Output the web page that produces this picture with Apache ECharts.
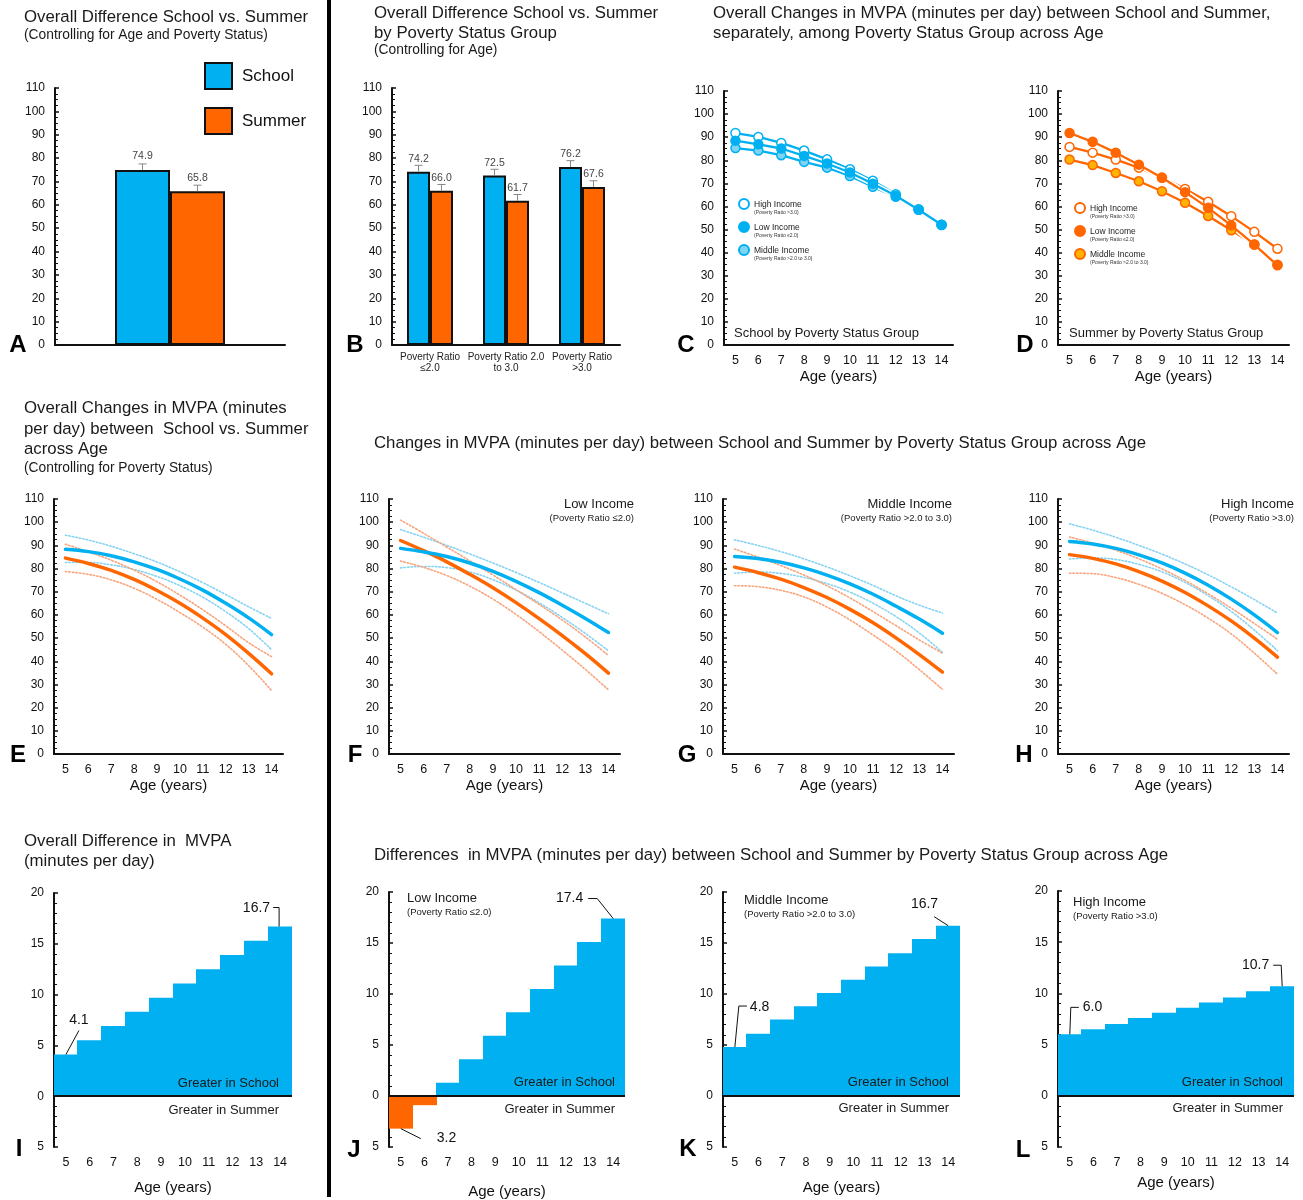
<!DOCTYPE html>
<html>
<head>
<meta charset="utf-8">
<script src="https://cdn.jsdelivr.net/npm/echarts@6/dist/echarts.min.js"></script>
<style>
  html, body { margin: 0; padding: 0; background: #fff; }
  #main { width: 1303px; height: 1200px; }
</style>
</head>
<body>
<div id="main"></div>
<script>
// ---------- data ----------
const ages = ['5', '6', '7', '8', '9', '10', '11', '12', '13', '14'];

// A: overall means (controlling for age and poverty status)
const overallSchool = [74.9];
const overallSummer = [65.8];
const overallSchoolErr = [2.6];
const overallSummerErr = [2.6];

// B: by poverty status group
const povertyGroups = ['Poverty Ratio\n≤2.0', 'Poverty Ratio 2.0\nto 3.0', 'Poverty Ratio\n>3.0'];
const groupSchool = [74.2, 72.5, 76.2];
const groupSummer = [66.0, 61.7, 67.6];
const groupSchoolErr = [2.7, 2.7, 2.7];
const groupSummerErr = [2.7, 2.7, 2.7];

// C: school MVPA by poverty group across age
const schoolHigh = [91.8, 90.1, 87.5, 84.2, 80.4, 76.1, 71.1, 65.3, 58.8, 52.1];
const schoolLow = [88.5, 86.9, 85.1, 81.9, 78.6, 74.7, 69.8, 64.6, 58.6, 52.1];
const schoolMiddle = [85.3, 84.2, 82.2, 79.3, 76.8, 73.2, 68.5, 64.2, 58.6, 52.0];

// D: summer MVPA by poverty group across age
const summerHigh = [85.8, 83.3, 80.3, 76.8, 72.5, 67.6, 62.0, 55.8, 49.0, 41.7];
const summerLow = [91.8, 88.0, 83.3, 78.1, 72.4, 66.2, 59.4, 51.8, 43.5, 34.5];
const summerMiddle = [80.3, 77.9, 74.5, 70.9, 66.6, 61.6, 55.9, 49.7, 43.5, 34.8];

// E: overall curves with confidence bounds
const allSchool = [88.3, 87.3, 85.5, 82.9, 79.6, 75.5, 70.7, 65.0, 58.7, 51.5];
const allSchoolUpper = [94.4, 92.3, 89.6, 86.4, 82.8, 78.6, 73.9, 68.8, 63.5, 58.5];
const allSchoolLower = [82.6, 82.6, 81.6, 79.6, 76.6, 72.6, 67.6, 61.4, 54.1, 45.0];
const allSummer = [84.5, 82.2, 79.2, 75.3, 70.5, 65.0, 58.6, 51.5, 43.4, 34.6];
const allSummerUpper = [90.5, 87.2, 83.6, 79.3, 74.3, 68.5, 62.2, 55.3, 48.0, 42.0];
const allSummerLower = [78.7, 77.5, 75.1, 71.5, 66.7, 61.0, 54.7, 47.3, 38.1, 27.4];

// F: low income
const lowSchool = [88.7, 87.2, 85.2, 82.4, 78.8, 74.5, 69.6, 64.2, 58.5, 52.4];
const lowSchoolUpper = [96.8, 93.5, 90.0, 86.3, 82.4, 78.3, 74.0, 69.5, 65.0, 60.5];
const lowSchoolLower = [80.3, 80.9, 80.4, 78.5, 75.2, 70.7, 65.2, 58.9, 52.0, 44.5];
const lowSummer = [92.1, 87.7, 82.9, 77.5, 71.7, 65.3, 58.4, 51.1, 43.3, 34.9];
const lowSummerUpper = [100.9, 95.2, 89.3, 83.3, 77.2, 70.9, 64.5, 57.8, 50.5, 42.5];
const lowSummerLower = [83.2, 80.5, 77.0, 72.4, 66.8, 60.2, 52.8, 44.8, 36.5, 27.7];

// G: middle income
const midSchool = [85.2, 84.3, 82.7, 80.3, 77.2, 73.4, 68.9, 63.7, 58.2, 52.1];
const midSchoolUpper = [92.4, 90.0, 87.3, 84.2, 80.7, 76.9, 72.7, 68.2, 64.2, 60.8];
const midSchoolLower = [78.0, 78.5, 77.9, 76.2, 73.5, 69.8, 65.0, 59.2, 52.2, 43.8];
const midSummer = [80.6, 78.3, 75.4, 71.8, 67.5, 62.4, 56.6, 50.0, 42.9, 35.3];
const midSummerUpper = [88.4, 85.0, 81.3, 77.2, 72.6, 67.3, 61.4, 55.3, 49.2, 43.5];
const midSummerLower = [72.6, 72.2, 70.6, 67.8, 63.4, 57.8, 51.3, 44.4, 36.4, 27.9];

// H: high income
const highSchool = [91.7, 90.6, 88.7, 85.9, 82.4, 78.0, 72.8, 66.8, 60.0, 52.4];
const highSchoolUpper = [99.3, 96.6, 93.5, 90.0, 86.2, 82.0, 77.3, 72.1, 66.6, 60.8];
const highSchoolLower = [84.1, 84.6, 83.9, 81.8, 78.6, 74.0, 68.3, 61.5, 53.4, 44.6];
const highSummer = [86.0, 84.4, 82.0, 78.7, 74.6, 69.7, 63.9, 57.4, 50.0, 41.8];
const highSummerUpper = [93.6, 91.0, 87.9, 84.2, 79.8, 74.8, 69.1, 62.9, 56.3, 49.5];
const highSummerLower = [78.0, 77.8, 76.1, 73.2, 69.3, 64.4, 58.6, 51.8, 43.5, 34.4];

// I-L: school minus summer difference by age
const diffOverall = [4.1, 5.5, 6.9, 8.3, 9.7, 11.1, 12.5, 13.9, 15.3, 16.7];
const diffLow = [-3.2, -0.9, 1.3, 3.6, 5.9, 8.2, 10.5, 12.8, 15.1, 17.4];
const diffMiddle = [4.8, 6.1, 7.5, 8.8, 10.1, 11.4, 12.7, 14.0, 15.4, 16.7];
const diffHigh = [6.0, 6.5, 7.0, 7.6, 8.1, 8.6, 9.1, 9.6, 10.2, 10.7];

// ---------- styling ----------
const FF = '"Liberation Sans", Arial, Helvetica, sans-serif';
const INK = '#111';
const BLUE = '#00b0f0', ORANGE = '#ff6600';
const BLUE_CI = '#86d3f3', ORANGE_CI = '#f8a47c';
const BLUE_MID = '#7fd3f3', ORANGE_MID = '#ffb300';

const incomeText = {
  High: ['High Income', '(Poverty Ratio >3.0)'],
  Low: ['Low Income', '(Poverty Ratio ≤2.0)'],
  Middle: ['Middle Income', '(Poverty Ratio >2.0 to 3.0)']
};

const grids = [
  { left: 55, top: 88, width: 230, height: 257 },    // A
  { left: 392, top: 88, width: 228, height: 257 },   // B
  { left: 724, top: 91, width: 229, height: 254 },   // C
  { left: 1058, top: 91, width: 231, height: 254 },  // D
  { left: 54, top: 499, width: 229, height: 255 },   // E
  { left: 389, top: 499, width: 231, height: 255 },  // F
  { left: 723, top: 499, width: 231, height: 255 },  // G
  { left: 1058, top: 499, width: 231, height: 255 }, // H
  { left: 54, top: 893, width: 238, height: 254 },   // I
  { left: 389, top: 892, width: 236, height: 255 },  // J
  { left: 723, top: 892, width: 237, height: 255 },  // K
  { left: 1058, top: 891, width: 236, height: 256 }  // L
];

const axisLine = { show: true, onZero: false, lineStyle: { color: INK, width: 2 } };

function valueY(gi, min, max, interval, minorSplit, fmt) {
  return {
    type: 'value', gridIndex: gi, min, max, interval,
    axisLine,
    axisTick: { show: true, inside: true, length: 4, lineStyle: { color: INK, width: 1.5 } },
    minorTick: { show: true, splitNumber: minorSplit, length: 3, lineStyle: { color: INK, width: 1 } },
    splitLine: { show: false }, minorSplitLine: { show: false },
    axisLabel: { color: INK, fontSize: 12, fontFamily: FF, margin: 10, formatter: fmt }
  };
}

function ageX(gi, nameGap, margin, showLine) {
  return {
    type: 'category', gridIndex: gi, data: ages, boundaryGap: true,
    axisLine: showLine ? axisLine : { show: false, onZero: false },
    axisTick: { show: false }, splitLine: { show: false },
    axisLabel: { color: INK, fontSize: 12.5, fontFamily: FF, margin, interval: 0 },
    name: 'Age (years)', nameLocation: 'middle', nameGap,
    nameTextStyle: { fontSize: 15, color: INK, fontFamily: FF }
  };
}

function bar(gi, name, data, color, width, labelDist) {
  return {
    type: 'bar', name, xAxisIndex: gi, yAxisIndex: gi, data,
    barWidth: width, barGap: '0%',
    itemStyle: { color, borderColor: INK, borderWidth: 2 },
    label: { show: true, position: 'top', distance: labelDist, fontSize: 10.5, color: '#444',
             fontFamily: FF, formatter: p => Number(p.value).toFixed(1) }
  };
}

function errorBars(gi, values, errs, side, barW) {
  return {
    type: 'custom', xAxisIndex: gi, yAxisIndex: gi, silent: true, z: 3,
    data: values.map((v, i) => [i, v, v + errs[i]]),
    renderItem: (params, api) => {
      const top = api.coord([api.value(0), api.value(2)]);
      const base = api.coord([api.value(0), api.value(1)]);
      const x = top[0] + side * barW / 2;
      return {
        type: 'group', children: [
          { type: 'line', shape: { x1: x, y1: base[1], x2: x, y2: top[1] }, style: { stroke: '#888', lineWidth: 1 } },
          { type: 'line', shape: { x1: x - 4, y1: top[1], x2: x + 4, y2: top[1] }, style: { stroke: '#888', lineWidth: 1 } }
        ]
      };
    }
  };
}

// each group line gets a white halo underneath so overlapping lines stay separate
function groupLine(gi, name, data, color, fill) {
  return [
    { type: 'line', xAxisIndex: gi, yAxisIndex: gi, data, symbol: 'none', silent: true,
      lineStyle: { color: '#fff', width: 5.5 } },
    { type: 'line', name, xAxisIndex: gi, yAxisIndex: gi, data,
      symbol: 'circle', symbolSize: 9,
      lineStyle: { color, width: 2.3 },
      itemStyle: { color: fill, borderColor: color, borderWidth: 1.5 } }
  ];
}

function curve(gi, data, color, width, dotted) {
  return {
    type: 'line', xAxisIndex: gi, yAxisIndex: gi, data, smooth: 0.4,
    symbol: 'none', silent: true,
    lineStyle: { color, width, type: dotted ? [1.5, 2] : 'solid', cap: 'round' }
  };
}

// contiguous step blocks: each age band filled from zero to its difference
function diffBars(gi, values) {
  return {
    type: 'custom', xAxisIndex: gi, yAxisIndex: gi, silent: true,
    data: values.map((v, i) => [i, v]),
    encode: { x: 0, y: 1 },
    renderItem: (params, api) => {
      const v = api.value(1);
      const end = api.coord([api.value(0), v]);
      const zero = api.coord([api.value(0), 0]);
      const bw = api.size([1, 0])[0];
      const x0 = Math.floor(end[0] - bw / 2);
      const x1 = Math.ceil(end[0] + bw / 2);
      return {
        type: 'rect',
        shape: { x: x0, y: Math.min(end[1], zero[1]), width: x1 - x0, height: Math.abs(zero[1] - end[1]) },
        style: { fill: v < 0 ? ORANGE : BLUE }
      };
    }
  };
}

function zeroLine(gi) {
  return {
    type: 'line', xAxisIndex: gi, yAxisIndex: gi, data: [], silent: true, z: 4,
    markLine: {
      silent: true, symbol: 'none', label: { show: false },
      lineStyle: { color: INK, width: 2, type: 'solid' },
      data: [{ yAxis: 0 }]
    }
  };
}

// leader line + value text for a labelled step; offsets are in pixels from the bar end
const calloutShapes = {
  I0: { path: [[0, 0], [13, -24]], text: [13, -34], align: 'center' },
  I9: { path: [[-1, 0], [-1, -19], [-7, -19]], text: [-10, -18], align: 'right' },
  J0: { path: [[0, 0], [20, 10]], text: [36, 10], align: 'left' },
  J9: { path: [[0, 0], [-16, -20], [-25, -20]], text: [-30, -20], align: 'right' },
  K0: { path: [[0, 0], [4, -41], [12, -41]], text: [15, -40], align: 'left' },
  K9: { path: [[0, 0], [-14, -9]], text: [-10, -22], align: 'right' },
  L0: { path: [[0, 0], [1, -27], [9, -27]], text: [13, -27], align: 'left' },
  L9: { path: [[0, 0], [-1, -21], [-9, -21]], text: [-13, -21], align: 'right' }
};

function callout(gi, values, idx, shape) {
  return {
    type: 'custom', xAxisIndex: gi, yAxisIndex: gi, silent: true, z: 5,
    data: [[idx, values[idx]]],
    renderItem: (params, api) => {
      const p = api.coord([api.value(0), api.value(1)]);
      const pts = shape.path.map(d => [p[0] + d[0], p[1] + d[1]]);
      return {
        type: 'group', children: [
          { type: 'polyline', shape: { points: pts }, style: { stroke: INK, lineWidth: 1, fill: null } },
          { type: 'text', x: p[0] + shape.text[0], y: p[1] + shape.text[1],
            style: { text: Math.abs(api.value(1)).toFixed(1), font: '14px ' + FF, fill: INK,
                     align: shape.align, verticalAlign: 'middle' } }
        ]
      };
    }
  };
}

function legendLabel(name) {
  const key = name.split(' ')[1];
  const t = incomeText[key];
  return '{t|' + t[0] + '}\n{s|' + t[1] + '}';
}

function groupLegend(left, top, names) {
  return {
    left, top, padding: 0, orient: 'vertical', icon: 'circle', itemWidth: 10, itemHeight: 10, itemGap: 5.5,
    selectedMode: false, data: names, formatter: legendLabel,
    textStyle: {
      padding: [8, 0, 0, 0],
      rich: {
        t: { fontSize: 8.5, color: '#222', fontFamily: FF, lineHeight: 10 },
        s: { fontSize: 5, color: '#333', fontFamily: FF, lineHeight: 7 }
      }
    }
  };
}

function txt(x, y, text, size, opts) {
  opts = opts || {};
  return {
    type: 'text', x, y, silent: true, z: 100,
    style: {
      text, fill: opts.fill || '#1a1a1a',
      font: (opts.bold ? 'bold ' : '') + size + 'px ' + FF,
      align: opts.align || 'left', verticalAlign: 'middle'
    }
  };
}

const topFmt = v => v;
const diffFmt = v => Math.abs(v);

const xAxes = [
  { type: 'category', gridIndex: 0, data: ['All'], axisLine, axisTick: { show: false }, axisLabel: { show: false },
    splitLine: { show: false } },
  { type: 'category', gridIndex: 1, data: povertyGroups, axisLine, axisTick: { show: false }, splitLine: { show: false },
    axisLabel: { fontSize: 10, lineHeight: 11, color: '#222', fontFamily: FF, margin: 7, interval: 0 } },
  ageX(2, 24, 9, true), ageX(3, 24, 9, true),
  ageX(4, 24, 9, true), ageX(5, 24, 9, true), ageX(6, 24, 9, true), ageX(7, 24, 9, true),
  ageX(8, 33, 9, false), ageX(9, 37, 9, false), ageX(10, 33, 9, false), ageX(11, 28, 9, false)
];

const yAxes = [];
for (let i = 0; i < 8; i++) yAxes.push(valueY(i, 0, 110, 10, 4, topFmt));
for (let i = 8; i < 12; i++) yAxes.push(valueY(i, -5, 20, 5, 5, diffFmt));

const series = [
  // A
  bar(0, 'School', overallSchool, BLUE, 55, 8),
  bar(0, 'Summer', overallSummer, ORANGE, 55, 8),
  errorBars(0, overallSchool, overallSchoolErr, -1, 55),
  errorBars(0, overallSummer, overallSummerErr, 1, 55),
  // B
  bar(1, 'School', groupSchool, BLUE, 23, 7),
  bar(1, 'Summer', groupSummer, ORANGE, 23, 7),
  errorBars(1, groupSchool, groupSchoolErr, -1, 23),
  errorBars(1, groupSummer, groupSummerErr, 1, 23),
  // C
  ...groupLine(2, 'School High Income', schoolHigh, BLUE, '#fff'),
  ...groupLine(2, 'School Middle Income', schoolMiddle, BLUE, BLUE_MID),
  ...groupLine(2, 'School Low Income', schoolLow, BLUE, BLUE),
  // D
  ...groupLine(3, 'Summer High Income', summerHigh, ORANGE, '#fff'),
  ...groupLine(3, 'Summer Middle Income', summerMiddle, ORANGE, ORANGE_MID),
  ...groupLine(3, 'Summer Low Income', summerLow, ORANGE, ORANGE)
];

const curvePanels = [
  [4, allSchool, allSchoolUpper, allSchoolLower, allSummer, allSummerUpper, allSummerLower],
  [5, lowSchool, lowSchoolUpper, lowSchoolLower, lowSummer, lowSummerUpper, lowSummerLower],
  [6, midSchool, midSchoolUpper, midSchoolLower, midSummer, midSummerUpper, midSummerLower],
  [7, highSchool, highSchoolUpper, highSchoolLower, highSummer, highSummerUpper, highSummerLower]
];
curvePanels.forEach(([gi, s, su, sl, m, mu, ml]) => {
  series.push(
    curve(gi, su, BLUE_CI, 1.6, true), curve(gi, sl, BLUE_CI, 1.6, true),
    curve(gi, mu, ORANGE_CI, 1.6, true), curve(gi, ml, ORANGE_CI, 1.6, true),
    curve(gi, m, ORANGE, 3.5, false), curve(gi, s, BLUE, 3.5, false)
  );
});

series.push(
  diffBars(8, diffOverall), diffBars(9, diffLow), diffBars(10, diffMiddle), diffBars(11, diffHigh),
  zeroLine(8), zeroLine(9), zeroLine(10), zeroLine(11),
  callout(8, diffOverall, 0, calloutShapes.I0), callout(8, diffOverall, 9, calloutShapes.I9),
  callout(9, diffLow, 0, calloutShapes.J0), callout(9, diffLow, 9, calloutShapes.J9),
  callout(10, diffMiddle, 0, calloutShapes.K0), callout(10, diffMiddle, 9, calloutShapes.K9),
  callout(11, diffHigh, 0, calloutShapes.L0), callout(11, diffHigh, 9, calloutShapes.L9)
);

const graphic = [
  { type: 'line', silent: true, shape: { x1: 329, y1: 0, x2: 329, y2: 1197 }, style: { stroke: '#000', lineWidth: 4 } },

  txt(24, 17, 'Overall Difference School vs. Summer', 16.8),
  txt(24, 35, '(Controlling for Age and Poverty Status)', 13.8),
  txt(374, 13, 'Overall Difference School vs. Summer', 16.8),
  txt(374, 33, 'by Poverty Status Group', 16.8),
  txt(374, 50, '(Controlling for Age)', 13.8),
  txt(713, 13, 'Overall Changes in MVPA (minutes per day) between School and Summer,', 16.8),
  txt(713, 33, 'separately, among Poverty Status Group across Age', 16.8),
  txt(24, 408, 'Overall Changes in MVPA (minutes', 16.8),
  txt(24, 429, 'per day) between  School vs. Summer', 16.8),
  txt(24, 449, 'across Age', 16.8),
  txt(24, 468, '(Controlling for Poverty Status)', 13.8),
  txt(374, 443, 'Changes in MVPA (minutes per day) between School and Summer by Poverty Status Group across Age', 16.8),
  txt(24, 841, 'Overall Difference in  MVPA', 16.8),
  txt(24, 861, '(minutes per day)', 16.8),
  txt(374, 855, 'Differences  in MVPA (minutes per day) between School and Summer by Poverty Status Group across Age', 16.8),

  txt(734, 333, 'School by Poverty Status Group', 13),
  txt(1069, 333, 'Summer by Poverty Status Group', 13),

  txt(634, 504, 'Low Income', 13, { align: 'right' }),
  txt(634, 518, '(Poverty Ratio ≤2.0)', 9.5, { align: 'right' }),
  txt(952, 504, 'Middle Income', 13, { align: 'right' }),
  txt(952, 518, '(Poverty Ratio >2.0 to 3.0)', 9.5, { align: 'right' }),
  txt(1294, 504, 'High Income', 13, { align: 'right' }),
  txt(1294, 518, '(Poverty Ratio >3.0)', 9.5, { align: 'right' }),

  txt(407, 898, 'Low Income', 13),
  txt(407, 912, '(Poverty Ratio ≤2.0)', 9.5),
  txt(744, 900, 'Middle Income', 13),
  txt(744, 914, '(Poverty Ratio >2.0 to 3.0)', 9.5),
  txt(1073, 902, 'High Income', 13),
  txt(1073, 916, '(Poverty Ratio >3.0)', 9.5),

  txt(279, 1083, 'Greater in School', 13, { align: 'right' }),
  txt(279, 1110, 'Greater in Summer', 13, { align: 'right' }),
  txt(615, 1082, 'Greater in School', 13, { align: 'right' }),
  txt(615, 1109, 'Greater in Summer', 13, { align: 'right' }),
  txt(949, 1082, 'Greater in School', 13, { align: 'right' }),
  txt(949, 1108, 'Greater in Summer', 13, { align: 'right' }),
  txt(1283, 1082, 'Greater in School', 13, { align: 'right' }),
  txt(1283, 1108, 'Greater in Summer', 13, { align: 'right' }),

  txt(18, 345, 'A', 24, { bold: true, align: 'center', fill: '#000' }),
  txt(355, 345, 'B', 24, { bold: true, align: 'center', fill: '#000' }),
  txt(686, 345, 'C', 24, { bold: true, align: 'center', fill: '#000' }),
  txt(1025, 345, 'D', 24, { bold: true, align: 'center', fill: '#000' }),
  txt(18, 755, 'E', 24, { bold: true, align: 'center', fill: '#000' }),
  txt(355, 755, 'F', 24, { bold: true, align: 'center', fill: '#000' }),
  txt(687, 755, 'G', 24, { bold: true, align: 'center', fill: '#000' }),
  txt(1024, 755, 'H', 24, { bold: true, align: 'center', fill: '#000' }),
  txt(19, 1149, 'I', 24, { bold: true, align: 'center', fill: '#000' }),
  txt(354, 1150, 'J', 24, { bold: true, align: 'center', fill: '#000' }),
  txt(688, 1149, 'K', 24, { bold: true, align: 'center', fill: '#000' }),
  txt(1023, 1150, 'L', 24, { bold: true, align: 'center', fill: '#000' })
];

const option = {
  animation: false,
  backgroundColor: '#fff',
  textStyle: { fontFamily: FF },
  grid: grids.map(g => Object.assign({ containLabel: false, outerBoundsMode: 'none' }, g)),
  xAxis: xAxes,
  yAxis: yAxes,
  legend: [
    { left: 204, top: 62, padding: 0, orient: 'vertical', icon: 'rect', itemWidth: 27, itemHeight: 26, itemGap: 17,
      selectedMode: false, data: ['School', 'Summer'],
      textStyle: { fontSize: 17, color: INK, fontFamily: FF, padding: [0, 0, 0, 5] } },
    groupLegend(738, 198, ['School High Income', 'School Low Income', 'School Middle Income']),
    groupLegend(1074, 202, ['Summer High Income', 'Summer Low Income', 'Summer Middle Income'])
  ],
  series,
  graphic
};

const chart = echarts.init(document.getElementById('main'), null, { renderer: 'canvas' });
chart.setOption(option);
</script>
</body>
</html>
